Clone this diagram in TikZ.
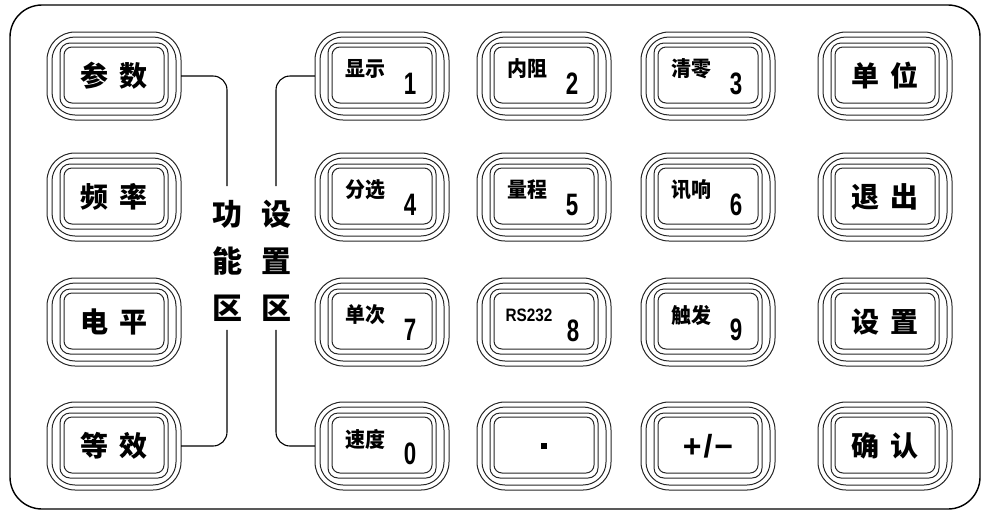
\documentclass[tikz,border=0pt]{standalone}
\usepackage{fontspec}
\usepackage{graphicx}
\newfontfamily\cjk{Noto Sans CJK SC}
\newfontfamily\numf{Liberation Sans}
\usetikzlibrary{calc}
\begin{document}
\begin{tikzpicture}[x=1pt,y=-1pt,
  keyline/.style={line width=1pt, draw=black!85},
  keybox/.style={minimum width=134pt, minimum height=88pt, inner sep=0pt, font=\cjk\bfseries\fontsize{28}{28}\selectfont},
  small/.style={font=\cjk\bfseries\fontsize{21}{21}\selectfont, inner sep=0pt, xscale=0.95},
  digit/.style={font=\numf\bfseries\fontsize{31}{31}\selectfont, inner sep=0pt, xscale=0.72},
  zone/.style={font=\cjk\bfseries\fontsize{30}{47}\selectfont, align=center, inner xsep=0pt, inner ysep=12pt},
  conn/.style={line width=1.1pt, rounded corners=14pt}
]
\useasboundingbox (0,0) rectangle (981,512);
\draw[line width=1.4pt, rounded corners=32pt] (10,5) rectangle (980,509);

% function keys
\node[keybox] (canshu)   at (114,76)  {参\hspace{11pt}数};
\node[keybox] (pinlv)    at (114,197) {频\hspace{11pt}率};
\node[keybox] (dianping) at (114,322) {电\hspace{11pt}平};
\node[keybox] (dengxiao) at (114,446) {等\hspace{11pt}效};
% numeric keys
\node[keybox] (xianshi)    at (382,76)  {};
\node[keybox] (fenxuan)    at (382,197) {};
\node[keybox] (danci)      at (382,322) {};
\node[keybox] (sudu)       at (382,446) {};
\node[keybox] (neizu)      at (544,76)  {};
\node[keybox] (liangcheng) at (544,197) {};
\node[keybox] (rs)         at (544,322) {};
\node[keybox] (dot)        at (544,446) {};
\node[keybox] (qingling)   at (708,76)  {};
\node[keybox] (xunxiang)   at (708,197) {};
\node[keybox] (chufa)      at (708,322) {};
\node[keybox, font=\numf\bfseries\fontsize{32}{32}\selectfont] (pm) at (708,446) {+\kern2pt/\kern2pt−};
% right column
\node[keybox] (danwei) at (885,76)  {单\hspace{11pt}位};
\node[keybox] (tuichu) at (885,197) {退\hspace{11pt}出};
\node[keybox] (shezhik) at (885,322) {设\hspace{11pt}置};
\node[keybox] (queren) at (885,446) {确\hspace{11pt}认};

\foreach \k in {canshu,pinlv,dianping,dengxiao,xianshi,fenxuan,danci,sudu,neizu,liangcheng,rs,dot,qingling,xunxiang,chufa,pm,danwei,tuichu,shezhik,queren}{
  \begin{scope}[shift={(\k.center)}]
    \draw[keyline, rounded corners=28pt] (-67,-44) rectangle (67,44);
    \draw[keyline, rounded corners=23pt] (-62,-39) rectangle (62,39);
    \draw[keyline, rounded corners=10pt] (-54,-33) rectangle (54,32);
    \draw[keyline, rounded corners=8pt] (-50,-29) rectangle (50,27);
  \end{scope}
}

% small labels and digits
\node[small] (l1) at ($(xianshi.center)+(-17,-7)$) {显示};
\node[digit] (d1) at ($(xianshi.center)+(28,8)$) {1};
\node[small] (l2) at ($(neizu.center)+(-17,-7)$) {内阻};
\node[digit] (d2) at ($(neizu.center)+(28,8)$) {2};
\node[small] (l3) at ($(qingling.center)+(-17,-7)$) {清零};
\node[digit] (d3) at ($(qingling.center)+(28,8)$) {3};
\node[small] (l4) at ($(fenxuan.center)+(-17,-7)$) {分选};
\node[digit] (d4) at ($(fenxuan.center)+(28,8)$) {4};
\node[small] (l5) at ($(liangcheng.center)+(-17,-7)$) {量程};
\node[digit] (d5) at ($(liangcheng.center)+(28,8)$) {5};
\node[small] (l6) at ($(xunxiang.center)+(-17,-7)$) {讯响};
\node[digit] (d6) at ($(xunxiang.center)+(28,8)$) {6};
\node[small] (l7) at ($(danci.center)+(-17,-7)$) {单次};
\node[digit] (d7) at ($(danci.center)+(28,8)$) {7};
\node[inner sep=0pt, font=\numf\bfseries\fontsize{18}{18}\selectfont, xscale=0.85] (l8) at ($(rs.center)+(-15,-7)$) {RS232};
\node[digit] (d8) at ($(rs.center)+(29,9)$) {8};
\node[small] (l9) at ($(chufa.center)+(-17,-7)$) {触发};
\node[digit] (d9) at ($(chufa.center)+(28,8)$) {9};
\node[small] (l0) at ($(sudu.center)+(-17,-7)$) {速度};
\node[digit] (d0) at ($(sudu.center)+(28,8)$) {0};
\node[fill=black, minimum size=6pt, inner sep=0pt] (dotmark) at (dot.center) {};

% zone labels
\node[zone] (gongneng) at (227,261) {功\\能\\区};
\node[zone] (shezhi)   at (276,261) {设\\置\\区};

\draw[conn] (canshu.east) -| ([yshift=2pt]gongneng.north);
\draw[conn] (dengxiao.east) -| ([yshift=4pt]gongneng.south);
\draw[conn] (xianshi.west) -| ([yshift=2pt]shezhi.north);
\draw[conn] (sudu.west) -| ([yshift=4pt]shezhi.south);
\end{tikzpicture}
\end{document}
